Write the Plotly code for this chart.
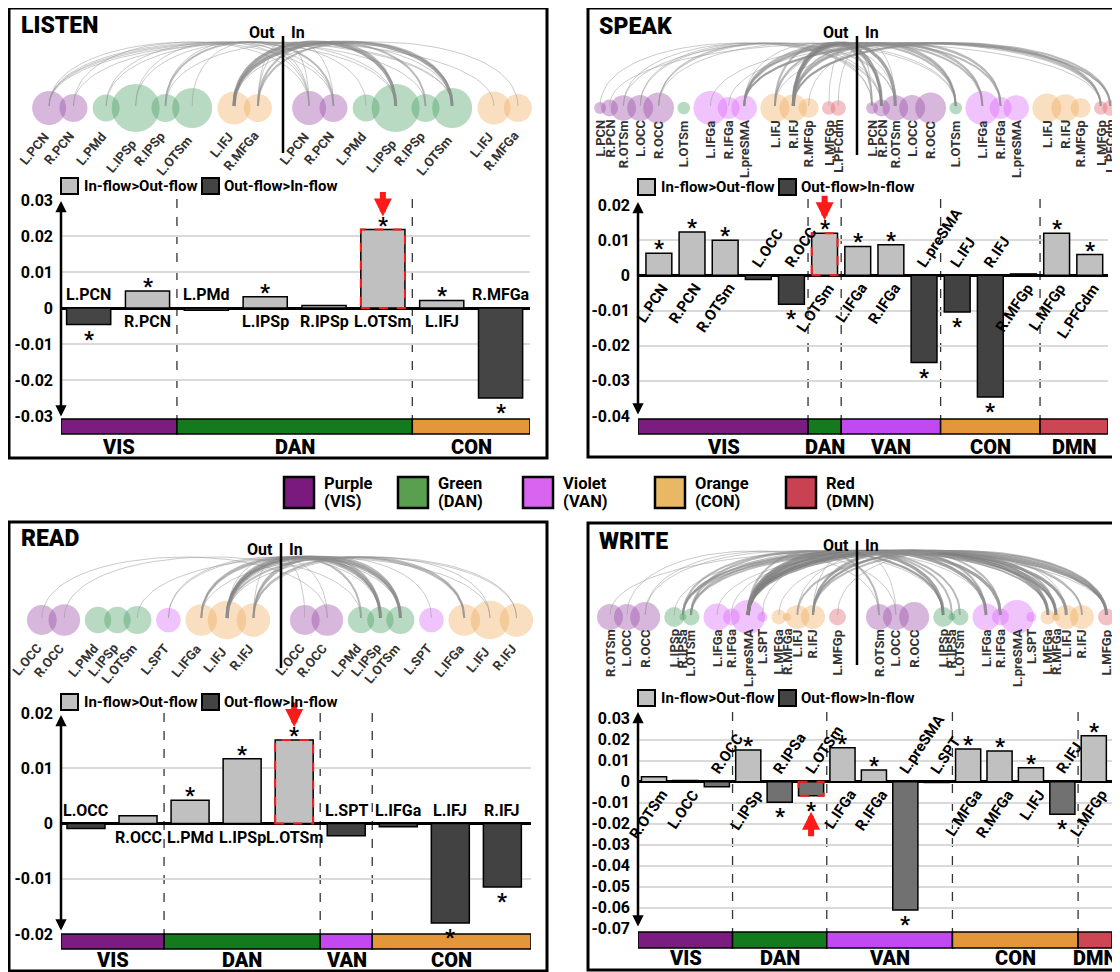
import numpy as np
import plotly.graph_objects as go

W, H = 1120, 972
OFF = 8                      # page body margin of the written html
FW, FH = W - OFF, H - OFF    # figure size that fits the window
FONT = "Roboto, Liberation Sans, Arial, sans-serif"

# ------------------------------------------------------------------ data
listen_regions = ["L.PCN", "R.PCN", "L.PMd", "L.IPSp", "R.IPSp", "L.OTSm", "L.IFJ", "R.MFGa"]
listen_networks = ["VIS", "VIS", "DAN", "DAN", "DAN", "DAN", "CON", "CON"]
listen_values = [-0.0046, 0.0047, -0.0006, 0.0031, 0.0007, 0.0218, 0.0021, -0.0250]
listen_signif = [1, 1, 0, 1, 0, 1, 1, 1]
listen_strength = [1.7, 1.4, 1.35, 2.4, 1.4, 2.0, 1.65, 1.4]
listen_edges = [
    ("L.PCN", "R.PCN", 1), ("L.PCN", "L.IPSp", 1), ("L.PCN", "R.IPSp", 1), ("L.PCN", "L.OTSm", 1),
    ("L.PCN", "L.IFJ", 1), ("R.PCN", "L.PCN", 1), ("R.PCN", "L.OTSm", 1), ("L.PMd", "R.PCN", 1),
    ("L.PMd", "L.IPSp", 1), ("L.IPSp", "L.PCN", 1), ("L.IPSp", "L.PMd", 1), ("R.IPSp", "R.PCN", 2),
    ("R.IPSp", "L.OTSm", 1), ("R.IPSp", "L.PCN", 1), ("L.OTSm", "L.PCN", 1), ("L.IFJ", "L.IPSp", 3),
    ("L.IFJ", "L.OTSm", 3), ("L.IFJ", "R.IPSp", 2), ("L.IFJ", "R.MFGa", 1), ("R.MFGa", "L.OTSm", 2),
    ("R.MFGa", "L.IPSp", 2), ("R.MFGa", "R.PCN", 1), ("R.MFGa", "L.PCN", 1),
]

speak_regions = ["L.PCN", "R.PCN", "R.OTSm", "L.OCC", "R.OCC", "L.OTSm", "L.IFGa", "R.IFGa",
                 "L.preSMA", "L.IFJ", "R.IFJ", "R.MFGp", "L.MFGp", "L.PFCdm"]
speak_networks = ["VIS", "VIS", "VIS", "VIS", "VIS", "DAN", "VAN", "VAN", "VAN", "CON", "CON", "CON", "DMN", "DMN"]
speak_values = [0.0063, 0.0123, 0.0100, -0.0012, -0.0082, 0.0120, 0.0082, 0.0087,
                -0.0248, -0.0104, -0.0346, 0.0004, 0.0120, 0.0059]
speak_signif = [1, 1, 1, 0, 1, 1, 1, 1, 1, 1, 1, 0, 1, 1]
speak_strength = [0.6, 0.85, 1.28, 1.3, 1.54, 0.63, 1.7, 1.1, 1.28, 1.45, 1.37, 1.0, 0.68, 0.77]
speak_edges = [
    ("R.OCC", "R.PCN", 1), ("R.OCC", "L.PCN", 1), ("R.OCC", "R.OTSm", 1), ("R.OCC", "L.OTSm", 1),
    ("L.OCC", "R.OTSm", 1), ("L.OCC", "L.PCN", 1), ("R.OTSm", "L.OTSm", 1), ("R.OTSm", "R.PCN", 1),
    ("R.PCN", "L.MFGp", 1), ("L.PCN", "R.PCN", 1), ("L.IFGa", "L.MFGp", 1), ("R.IFGa", "L.PFCdm", 1),
    ("L.preSMA", "L.IFGa", 2), ("L.preSMA", "R.IFGa", 2), ("L.preSMA", "L.OTSm", 2),
    ("L.preSMA", "R.OTSm", 1), ("L.preSMA", "L.MFGp", 2), ("L.preSMA", "L.PFCdm", 2),
    ("L.IFJ", "R.PCN", 2), ("L.IFJ", "L.OTSm", 2), ("L.IFJ", "L.IFGa", 1), ("L.IFJ", "L.MFGp", 1),
    ("R.IFJ", "R.PCN", 3), ("R.IFJ", "R.OTSm", 3), ("R.IFJ", "L.OTSm", 2), ("R.IFJ", "R.IFGa", 2),
    ("R.IFJ", "L.IFGa", 2), ("R.IFJ", "L.MFGp", 2), ("R.IFJ", "L.PFCdm", 2), ("R.IFJ", "L.PCN", 2),
    ("R.MFGp", "R.IFGa", 1), ("L.MFGp", "L.PCN", 1), ("L.PFCdm", "R.OTSm", 1),
]

read_regions = ["L.OCC", "R.OCC", "L.PMd", "L.IPSp", "L.OTSm", "L.SPT", "L.IFGa", "L.IFJ", "R.IFJ"]
read_networks = ["VIS", "VIS", "DAN", "DAN", "DAN", "VAN", "CON", "CON", "CON"]
read_values = [-0.0009, 0.0014, 0.0042, 0.0117, 0.0151, -0.0022, -0.0006, -0.0180, -0.0115]
read_signif = [0, 0, 1, 1, 1, 0, 0, 1, 1]
read_strength = [1.49, 1.58, 1.32, 1.32, 1.4, 1.23, 1.58, 1.93, 1.67]
read_edges = [
    ("L.OCC", "R.OCC", 1), ("R.OCC", "L.PMd", 1), ("L.SPT", "L.IPSp", 1), ("L.SPT", "L.OTSm", 1),
    ("L.IFGa", "L.IPSp", 2), ("L.IFGa", "L.OTSm", 2), ("L.IFGa", "R.IFJ", 1),
    ("L.IFJ", "L.PMd", 2), ("L.IFJ", "L.IPSp", 3), ("L.IFJ", "L.OTSm", 3), ("L.IFJ", "L.IFGa", 2),
    ("L.IFJ", "R.OCC", 1), ("L.IFJ", "L.SPT", 1), ("L.IFJ", "R.IFJ", 1),
    ("R.IFJ", "L.IPSp", 2), ("R.IFJ", "L.OTSm", 2), ("R.IFJ", "L.IFGa", 2), ("R.IFJ", "L.IFJ", 1),
    ("R.IFJ", "L.OCC", 1), ("L.OTSm", "L.IFJ", 1),
]

write_regions = ["R.OTSm", "L.OCC", "R.OCC", "L.IPSp", "R.IPSa", "L.OTSm", "L.IFGa", "R.IFGa",
                 "L.preSMA", "L.SPT", "L.MFGa", "R.MFGa", "L.IFJ", "R.IFJ", "L.MFGp"]
write_networks = ["VIS", "VIS", "VIS", "DAN", "DAN", "DAN", "VAN", "VAN", "VAN", "VAN",
                  "CON", "CON", "CON", "CON", "DMN"]
write_values = [0.0024, 0.0006, -0.0024, 0.0151, -0.0098, -0.0067, 0.0162, 0.0056,
                -0.0611, -0.0004, 0.0156, 0.0146, 0.0067, -0.0155, 0.0219]
write_signif = [0, 0, 0, 1, 1, 1, 1, 1, 1, 0, 1, 1, 1, 1, 1]
write_strength = [1.3, 1.3, 1.5, 1.0, 0.34, 0.85, 1.36, 0.85, 1.7, 0.5, 0.75, 0.4, 1.2, 1.2, 0.85]
write_edges = [
    ("R.OTSm", "L.MFGp", 1), ("L.OCC", "R.OTSm", 1), ("R.OCC", "L.IPSp", 1), ("R.OCC", "L.OCC", 1),
    ("L.IPSp", "L.MFGa", 1), ("R.IPSa", "L.IPSp", 2), ("R.IPSa", "L.MFGa", 2), ("R.IPSa", "R.MFGa", 2),
    ("R.IPSa", "L.MFGp", 2), ("L.OTSm", "L.IPSp", 2), ("L.OTSm", "L.IFGa", 1), ("L.OTSm", "R.MFGa", 2),
    ("L.OTSm", "L.MFGp", 2), ("L.IFGa", "L.MFGp", 1), ("R.IFGa", "L.IFJ", 1),
    ("L.preSMA", "R.OTSm", 2), ("L.preSMA", "L.IPSp", 3), ("L.preSMA", "L.OTSm", 2),
    ("L.preSMA", "L.IFGa", 3), ("L.preSMA", "R.IFGa", 3), ("L.preSMA", "L.MFGa", 3),
    ("L.preSMA", "R.MFGa", 3), ("L.preSMA", "L.IFJ", 3), ("L.preSMA", "R.IFJ", 2),
    ("L.preSMA", "L.MFGp", 3), ("L.preSMA", "R.IPSa", 2), ("L.SPT", "L.IFGa", 1),
    ("L.MFGa", "R.IFJ", 1), ("L.IFJ", "L.MFGp", 2), ("L.IFJ", "L.IFGa", 1),
    ("R.IFJ", "L.IFGa", 2), ("R.IFJ", "R.IFGa", 2), ("R.IFJ", "L.MFGa", 2), ("R.IFJ", "R.MFGa", 2),
    ("R.IFJ", "L.MFGp", 2), ("R.IFJ", "L.OCC", 1), ("L.MFGp", "L.IFJ", 1),
]

network_names = ["VIS", "DAN", "VAN", "CON", "DMN"]
network_colour_names = ["Purple", "Green", "Violet", "Orange", "Red"]
legend_in_label = "In-flow>Out-flow"
legend_out_label = "Out-flow>In-flow"

# ------------------------------------------------------------------ styles
BAND_COL = {"VIS": "#7A1C80", "DAN": "#137A1D", "VAN": "#C248F2", "CON": "#E3963A", "DMN": "#CD4654"}
KEY_COL = {"VIS": "#7A1A7E", "DAN": "#5A9E50", "VAN": "#D964F0", "CON": "#E8B865", "DMN": "#C84252"}
NODE_COL = {"VIS": "rgba(150,70,165,0.55)", "DAN": "rgba(70,160,95,0.55)", "VAN": "rgba(215,100,250,0.55)",
            "CON": "rgba(240,170,90,0.55)", "DMN": "rgba(225,95,110,0.55)"}
EDGE_STYLE = {1: (1.0, "rgba(150,150,150,0.5)"), 2: (2.0, "rgba(140,140,140,0.6)"), 3: (3.2, "rgba(125,125,125,0.7)")}
POS_COL = "#C0C0C0"

PANELS = [
    dict(title="LISTEN", regions=listen_regions, networks=listen_networks, values=listen_values,
         signif=listen_signif, strength=listen_strength, edges=listen_edges, highlight="L.OTSm", arrow="down",
         box=(9, 8, 547, 458), title_xy=(19, 25), center=283, half_start=32, node_y=108, arc_peak=42,
         split_y=(36, 153), outin_y=32, pack=(0.78, 5), node_angle=-50,
         bar_x=(61, 530), bar_y=(200, 416), xrange=(-0.47, 7.5), yrange=(-0.03, 0.03),
         band_y=(419, 434), netlabel_y=447, legend_y=186, axis_arrow=(201, 418), bar_width=0.75,
         neg_col="#454545", label_angle=0, label_dx=0, sep_top=199),
    dict(title="SPEAK", regions=speak_regions, networks=speak_networks, values=speak_values,
         signif=speak_signif, strength=speak_strength, edges=speak_edges, highlight="L.OTSm", arrow="down",
         box=(588, 8, 1118, 457), title_xy=(597, 26), center=857, half_start=594, node_y=108, arc_peak=43,
         split_y=(36, 155), outin_y=32, pack=(0.64, 3), node_angle=-90,
         bar_x=(638, 1108), bar_y=(205, 416), xrange=(-0.63, 13.55), yrange=(-0.04, 0.02),
         band_y=(419, 434), netlabel_y=447, legend_y=187, axis_arrow=(202, 416), bar_width=0.78,
         neg_col="#424242", label_angle=-56, label_dx=3, sep_top=199),
    dict(title="READ", regions=read_regions, networks=read_networks, values=read_values,
         signif=read_signif, strength=read_strength, edges=read_edges, highlight="L.OTSm", arrow="down",
         box=(9, 522, 547, 971), title_xy=(19, 538), center=281, half_start=27, node_y=620, arc_peak=557,
         split_y=(543, 668), outin_y=549, pack=(0.74, 5), node_angle=-50,
         bar_x=(61, 531), bar_y=(713, 934), xrange=(-0.48, 8.55), yrange=(-0.02, 0.02),
         band_y=(934, 949), netlabel_y=960, legend_y=702, axis_arrow=(715, 932), bar_width=0.73,
         neg_col="#424242", label_angle=0, label_dx=0, sep_top=713),
    dict(title="WRITE", regions=write_regions, networks=write_networks, values=write_values,
         signif=write_signif, strength=write_strength, edges=write_edges, highlight="L.OTSm", arrow="up",
         box=(588, 523, 1118, 970), title_xy=(597, 541), center=857, half_start=597, node_y=617, arc_peak=551,
         split_y=(541, 665), outin_y=545, pack=(0.65, 4), node_angle=-90,
         bar_x=(638, 1112), bar_y=(718.7, 928.7), xrange=(-0.51, 14.58), yrange=(-0.07, 0.03),
         band_y=(932, 948), netlabel_y=958, legend_y=698, axis_arrow=(712, 928), bar_width=0.8,
         neg_col="#717171", label_angle=-56, label_dx=8, sep_top=712),
]

fig = go.Figure()
shapes, annos = [], []
OX, OY = "x5", "y5"


def fnt(size, color="black", weight="bold"):
    return dict(family=FONT, size=size, color=color, weight=weight)


def text(x, y, s, size, xanchor="center", yanchor="middle", angle=0, xref=OX, yref=OY, color="black",
         xshift=0, yshift=0, weight="bold"):
    annos.append(dict(x=x, y=y, xref=xref, yref=yref, text=s, showarrow=False, font=fnt(size, color, weight),
                      xanchor=xanchor, yanchor=yanchor, textangle=angle, xshift=xshift, yshift=yshift))


def rect(x0, y0, x1, y1, fill, line="black", lw=1.5, xref=OX, yref=OY, dash="solid", layer="above"):
    shapes.append(dict(type="rect", x0=x0, y0=y0, x1=x1, y1=y1, xref=xref, yref=yref, fillcolor=fill,
                       line=dict(color=line, width=lw, dash=dash), layer=layer))


def tick_text(v):
    if abs(v) < 1e-12:
        return "0"
    return f"{v:.2f}"


def pack_half(strength, networks, f, g, x_start, x_end):
    r = [10 * s for s in strength]
    p = [r[0]]
    for i in range(1, len(r)):
        if networks[i] == networks[i - 1]:
            d = max(f * (r[i] + r[i - 1]), 8)
        else:
            d = r[i] + r[i - 1] + g
        p.append(p[-1] + d)
    total = p[-1] + r[-1]
    s = (x_end - x_start) / total
    return [x_start + v * s for v in p], r


layout_axes = {}
for k, P in enumerate(PANELS, start=1):
    xs_ = "x" if k == 1 else f"x{k}"
    ys_ = "y" if k == 1 else f"y{k}"
    xkey = "xaxis" if k == 1 else f"xaxis{k}"
    ykey = "yaxis" if k == 1 else f"yaxis{k}"
    regs, vals, nets = P["regions"], P["values"], P["networks"]
    n = len(regs)
    idx = list(range(n))
    bx0, bx1 = P["bar_x"]
    by0, by1 = P["bar_y"]
    xr0, xr1 = P["xrange"]
    ymin, ymax = P["yrange"]
    bw = P["bar_width"]
    ppu = (bx1 - bx0) / (xr1 - xr0)

    # ---------------- bars
    cols = [POS_COL if v >= 0 else P["neg_col"] for v in vals]
    fig.add_trace(go.Bar(x=idx, y=vals, width=bw, marker=dict(color=cols, line=dict(color="black", width=1.5)),
                         xaxis=xs_, yaxis=ys_, hoverinfo="skip", showlegend=False))
    nt = int(round((ymax - ymin) / 0.01))
    tv = [round(ymin + 0.01 * i, 2) for i in range(nt + 1)]
    layout_axes[xkey] = dict(domain=[(bx0 - OFF) / FW, (bx1 - OFF) / FW], range=[xr0, xr1], anchor=ys_,
                             showgrid=False, zeroline=False, showticklabels=False, showline=False,
                             fixedrange=True, automargin=False)
    layout_axes[ykey] = dict(domain=[1 - (by1 - OFF) / FH, 1 - (by0 - OFF) / FH], range=[ymin, ymax],
                             anchor=xs_, tickvals=tv, ticktext=[tick_text(v) for v in tv], tickfont=fnt(16),
                             showgrid=True, gridcolor="#DADADA", gridwidth=2, zeroline=True,
                             zerolinecolor="black", zerolinewidth=2.5, showline=False, ticks="",
                             ticklabelstandoff=7, fixedrange=True, automargin=False)

    # y-axis double arrow
    at, ab = P["axis_arrow"]
    annos.append(dict(x=bx0, y=at, ax=bx0, ay=ab, xref=OX, yref=OY, axref=OX, ayref=OY, text="",
                      showarrow=True, arrowside="end+start", arrowhead=2, startarrowhead=2,
                      arrowsize=0.9, startarrowsize=0.9, arrowwidth=2.5, arrowcolor="black",
                      standoff=0, startstandoff=0))

    # bar labels & asterisks
    half_px = bw / 2 * ppu
    for i, (reg, v, sg) in enumerate(zip(regs, vals, P["signif"])):
        pos = v >= 0
        if P["label_angle"] == 0:
            text(i, 0, reg, 16, "center", "top" if pos else "bottom", xref=xs_, yref=ys_,
                 yshift=-2 if pos else 2)
        else:
            if pos:
                text(i, 0, reg, 15, "right", "top", angle=P["label_angle"], xref=xs_, yref=ys_,
                     xshift=half_px + P["label_dx"], yshift=-2)
            else:
                text(i, 0, reg, 15, "left", "bottom", angle=P["label_angle"], xref=xs_, yref=ys_,
                     xshift=-half_px, yshift=2)
        if sg:
            text(i, v, "*", 22, "center", "bottom" if pos else "top", xref=xs_, yref=ys_,
                 yshift=-10 if pos else 0)

    # highlighted bar + red arrow
    hi = regs.index(P["highlight"])
    hv = vals[hi]
    shapes.append(dict(type="rect", x0=hi - bw / 2, x1=hi + bw / 2, y0=0, y1=hv, xref=xs_, yref=ys_,
                       line=dict(color="#FF1A1A", width=2, dash="dash"), layer="above"))
    if P["arrow"] == "down":
        annos.append(dict(x=hi, y=hv, xref=xs_, yref=ys_, text="", showarrow=True, ax=0, ay=-26,
                          yshift=13, arrowhead=2, arrowsize=0.6, arrowwidth=6, arrowcolor="#FF1A1A",
                          standoff=0))
    else:
        annos.append(dict(x=hi, y=hv, xref=xs_, yref=ys_, text="", showarrow=True, ax=0, ay=26,
                          yshift=-16, arrowhead=2, arrowsize=0.6, arrowwidth=6, arrowcolor="#FF1A1A",
                          standoff=0))

    # network runs: band, separators, labels
    runs = []
    for i, net in enumerate(nets):
        if runs and runs[-1][0] == net:
            runs[-1][2] = i
        else:
            runs.append([net, i, i])
    bt, bb = P["band_y"]
    for j, (net, a, b) in enumerate(runs):
        x0 = xr0 if j == 0 else a - 0.5
        x1 = xr1 if j == len(runs) - 1 else b + 0.5
        rect(x0, bt, x1, bb, BAND_COL[net], xref=xs_, yref=OY, lw=1.5)
        text((x0 + x1) / 2, P["netlabel_y"], net, 20, xref=xs_, yref=OY, weight=900)
        if j > 0:
            shapes.append(dict(type="line", x0=a - 0.5, x1=a - 0.5, y0=P["sep_top"], y1=bt, xref=xs_, yref=OY,
                               line=dict(color="#333333", width=1.3, dash="dash"), layer="below"))

    # bar-chart key
    ly = P["legend_y"]
    rect(bx0, ly - 8, bx0 + 17, ly + 8, POS_COL, lw=2)
    text(bx0 + 21, ly, legend_in_label, 15, "left")
    rect(bx0 + 141, ly - 8, bx0 + 158, ly + 8, "#444444", lw=2)
    text(bx0 + 161, ly, legend_out_label, 15, "left")

    # ---------------- arc diagram
    c = P["center"]
    f, g = P["pack"]
    xl, rr = pack_half(P["strength"], nets, f, g, P["half_start"], c - 11)
    shift = (c + 9) - P["half_start"]
    xr_ = [x + shift for x in xl]
    ny = P["node_y"]
    node_cols = [NODE_COL[nn] for nn in nets]
    for xx in (xl, xr_):
        fig.add_trace(go.Scatter(x=xx, y=[ny] * n, mode="markers", xaxis=OX, yaxis=OY,
                                 marker=dict(size=[2 * r for r in rr], color=node_cols, line=dict(width=0)),
                                 hoverinfo="skip", showlegend=False))
    t = np.linspace(0, 1, 48)
    yb = ny - 2
    ytop = yb + (P["arc_peak"] - yb) / 0.75
    for (s, d, w) in P["edges"]:
        xs0 = xl[regs.index(s)]
        xd0 = xr_[regs.index(d)]
        ax_ = (1 - t) ** 3 * xs0 + 3 * (1 - t) ** 2 * t * xs0 + 3 * (1 - t) * t ** 2 * xd0 + t ** 3 * xd0
        ay_ = (1 - t) ** 3 * yb + 3 * (1 - t) ** 2 * t * ytop + 3 * (1 - t) * t ** 2 * ytop + t ** 3 * yb
        lw, lc = EDGE_STYLE[w]
        fig.add_trace(go.Scatter(x=ax_, y=ay_, mode="lines", xaxis=OX, yaxis=OY,
                                 line=dict(color=lc, width=lw), hoverinfo="skip", showlegend=False))
    for xx in (xl, xr_):
        for i, reg in enumerate(regs):
            if P["node_angle"] == -90:
                text(xx[i], ny + 10, reg, 13, "center", "top", angle=-90, color="#333333")
            else:
                text(xx[i] + 6, ny + max(rr[i], 16) + 2, reg, 13, "right", "top", angle=P["node_angle"],
                     color="#333333")
    text(c - 6, P["outin_y"], "Out", 16, "right")
    text(c + 6, P["outin_y"], "In", 16, "left")
    s0, s1 = P["split_y"]
    shapes.append(dict(type="line", x0=c, x1=c, y0=s0, y1=s1, xref=OX, yref=OY,
                       line=dict(color="black", width=2.5), layer="above"))

    text(P["title_xy"][0], P["title_xy"][1], P["title"], 23, "left", weight=900)
    x0b, y0b, x1b, y1b = P["box"]
    rect(x0b, y0b, x1b, y1b, "rgba(0,0,0,0)", lw=3)

# ---------------- network colour key
key_x = [284, 398, 523, 655, 786]
for kx, net, cname in zip(key_x, network_names, network_colour_names):
    rect(kx, 477, kx + 30, 508, KEY_COL[net], lw=2.5)
    text(kx + 38, 483, cname, 16.5, "left")
    text(kx + 38, 501, f"({net})", 16.5, "left")

layout_axes["xaxis5"] = dict(domain=[0, 1], range=[OFF, W], anchor="y5", visible=False, fixedrange=True,
                             automargin=False)
layout_axes["yaxis5"] = dict(domain=[0, 1], range=[H, OFF], anchor="x5", visible=False, fixedrange=True,
                             automargin=False)

fig.update_layout(width=FW, height=FH, margin=dict(l=0, r=0, t=0, b=0, autoexpand=False),
                  paper_bgcolor="white", plot_bgcolor="rgba(0,0,0,0)", showlegend=False, shapes=shapes,
                  annotations=annos, bargap=0.25, font=dict(family=FONT), **layout_axes)
fig.write_html("out.html")
